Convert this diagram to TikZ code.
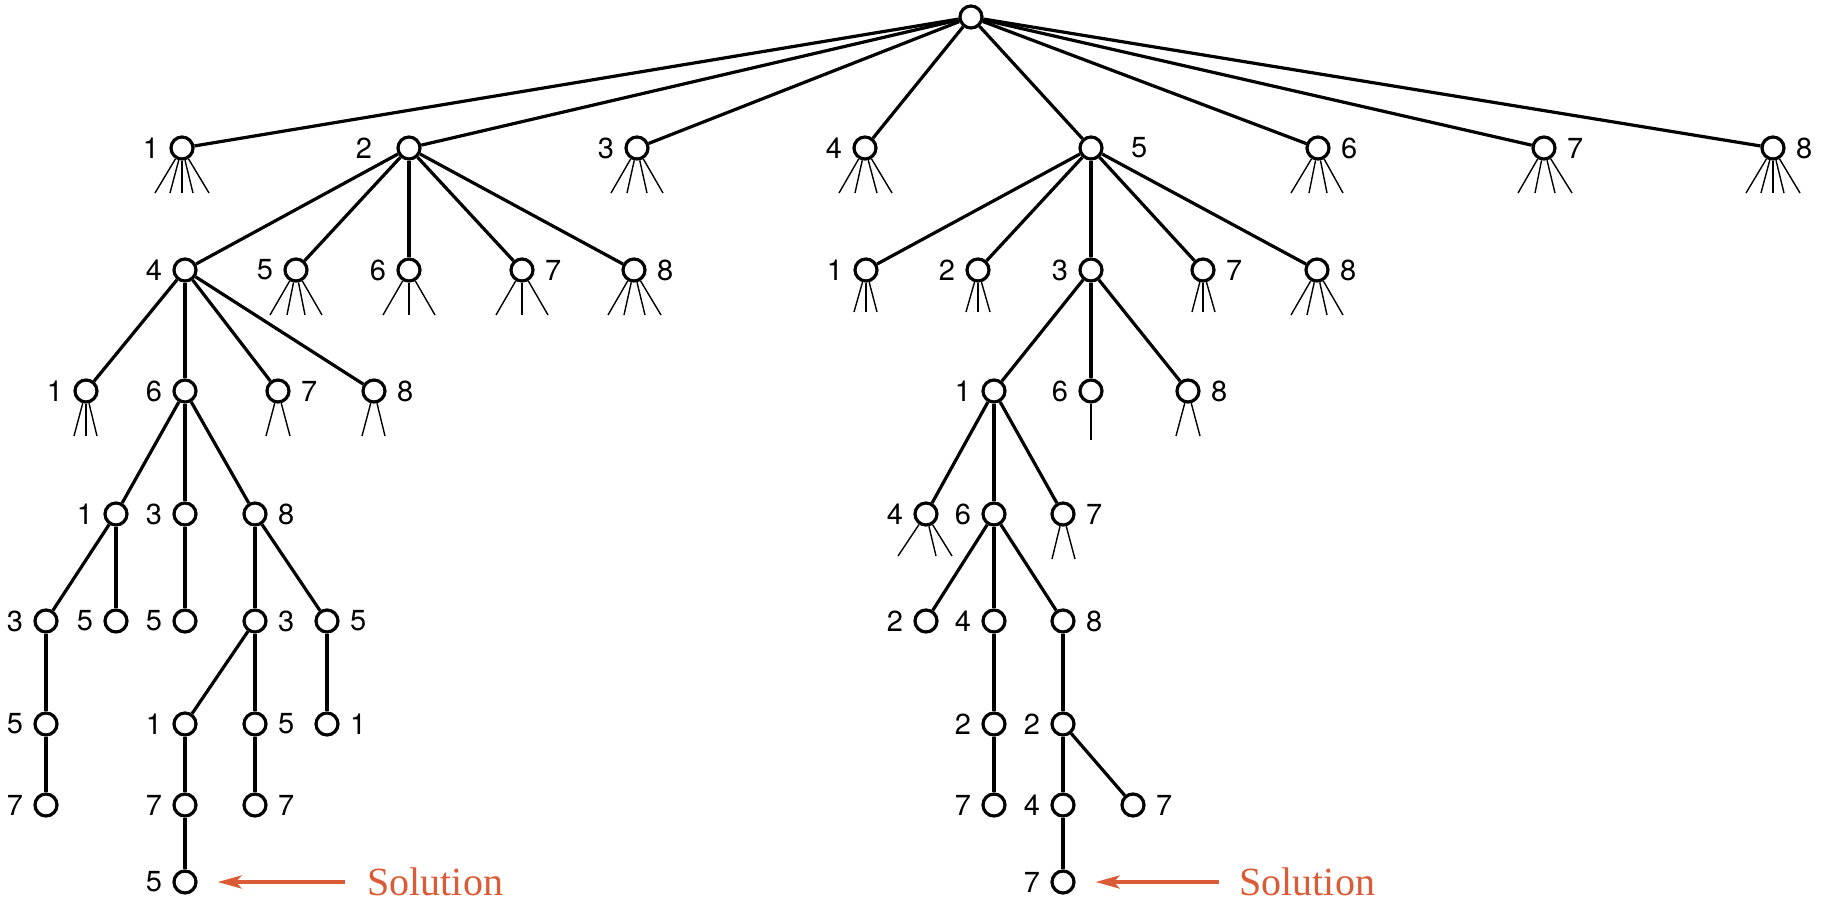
\documentclass[tikz,border=0pt]{standalone}
\usepackage{fontspec}
\usepackage{tikz}
\usetikzlibrary{arrows.meta}
\usepackage{xcolor}
\newfontfamily\labfont{TeX Gyre Heros}
\newfontfamily\solfont{Liberation Serif}
\definecolor{solred}{HTML}{DA5B36}
\newcommand{\stubs}[3][45]{\foreach \dx in {#3} \draw[stub] (#2) -- +(\dx,#1);}

\begin{document}
\begin{tikzpicture}[x=0.5pt, y={(0pt,-0.5pt)},
    vtx/.style={circle, draw, line width=1.6pt, minimum size=11pt, inner sep=0pt, fill=white},
    edge/.style={line width=1.6pt},
    stub/.style={line width=0.7pt},
    every label/.style={font=\labfont\fontsize{14.5}{16}\selectfont, inner sep=0pt},
    label distance=5pt]
  \useasboundingbox (0,0) rectangle (1832,907);

  % root and first row
  \node[vtx] (r) at (971,17) {};
  \node[vtx, label=left:1] (n1) at (182,148) {};
  \node[vtx, label={[label distance=12pt]left:2}] (n2) at (409,148) {};
  \node[vtx, label=left:3] (n3) at (637,148) {};
  \node[vtx, label=left:4] (n4) at (865,148) {};
  \node[vtx, label={[label distance=13.5pt]right:5}] (n5) at (1091,148) {};
  \node[vtx, label=right:6] (n6) at (1318,148) {};
  \node[vtx, label=right:7] (n7) at (1544,148) {};
  \node[vtx, label=right:8] (n8) at (1773,148) {};

  % second row
  \node[vtx, label=left:4] (n24) at (185,270) {};
  \node[vtx, label=left:5] (n25) at (296,270) {};
  \node[vtx, label=left:6] (n26) at (409,270) {};
  \node[vtx, label=right:7] (n27) at (522,270) {};
  \node[vtx, label=right:8] (n28) at (634,270) {};
  \node[vtx, label=left:1] (n51) at (866,270) {};
  \node[vtx, label=left:2] (n52) at (978,270) {};
  \node[vtx, label=left:3] (n53) at (1091,270) {};
  \node[vtx, label=right:7] (n57) at (1203,270) {};
  \node[vtx, label=right:8] (n58) at (1317,270) {};

  % third row
  \node[vtx, label=left:1] (n241) at (86,391) {};
  \node[vtx, label=left:6] (n246) at (185,391) {};
  \node[vtx, label=right:7] (n247) at (278,391) {};
  \node[vtx, label=right:8] (n248) at (374,391) {};
  \node[vtx, label=left:1] (n531) at (994,391) {};
  \node[vtx, label=left:6] (n536) at (1091,391) {};
  \node[vtx, label=right:8] (n538) at (1188,391) {};

  % fourth row
  \node[vtx, label=left:1] (n2461) at (116,514) {};
  \node[vtx, label=left:3] (n2463) at (185,514) {};
  \node[vtx, label=right:8] (n2468) at (255,514) {};
  \node[vtx, label=left:4] (n5314) at (926,514) {};
  \node[vtx, label=left:6] (n5316) at (994,514) {};
  \node[vtx, label=right:7] (n5317) at (1063,514) {};

  % fifth row
  \node[vtx, label=left:3] (n24613) at (46,621) {};
  \node[vtx, label=left:5] (n24615) at (116,621) {};
  \node[vtx, label=left:5] (n24635) at (185,621) {};
  \node[vtx, label=right:3] (n24683) at (255,621) {};
  \node[vtx, label=right:5] (n24685) at (327,621) {};
  \node[vtx, label=left:2] (n53162) at (926,621) {};
  \node[vtx, label=left:4] (n53164) at (994,621) {};
  \node[vtx, label=right:8] (n53168) at (1063,621) {};

  % sixth row
  \node[vtx, label=left:5] (n246135) at (46,724) {};
  \node[vtx, label=left:1] (n246831) at (185,724) {};
  \node[vtx, label=right:5] (n246835) at (255,724) {};
  \node[vtx, label=right:1] (n246851) at (327,724) {};
  \node[vtx, label=left:2] (n531642) at (994,724) {};
  \node[vtx, label=left:2] (n531682) at (1063,724) {};

  % seventh row
  \node[vtx, label=left:7] (n2461357) at (46,805) {};
  \node[vtx, label=left:7] (n2468317) at (185,805) {};
  \node[vtx, label=right:7] (n2468357) at (255,805) {};
  \node[vtx, label=left:7] (n5316427) at (994,805) {};
  \node[vtx, label=left:4] (n5316824) at (1063,805) {};
  \node[vtx, label=right:7] (n5316827) at (1133,805) {};

  % the two solutions
  \node[vtx, label=left:5] (n24683175) at (185,882) {};
  \node[vtx, label=left:7] (n53168247) at (1063,882) {};

  \foreach \a/\b in {r/n1, r/n2, r/n3, r/n4, r/n5, r/n6, r/n7, r/n8,
      n2/n24, n2/n25, n2/n26, n2/n27, n2/n28,
      n5/n51, n5/n52, n5/n53, n5/n57, n5/n58,
      n24/n241, n24/n246, n24/n247, n24/n248,
      n53/n531, n53/n536, n53/n538,
      n246/n2461, n246/n2463, n246/n2468,
      n531/n5314, n531/n5316, n531/n5317,
      n2461/n24613, n2461/n24615, n2463/n24635,
      n2468/n24683, n2468/n24685,
      n5316/n53162, n5316/n53164, n5316/n53168,
      n24613/n246135, n24683/n246831, n24683/n246835, n24685/n246851,
      n53164/n531642, n53168/n531682,
      n246135/n2461357, n246831/n2468317, n246835/n2468357,
      n531642/n5316427, n531682/n5316824, n531682/n5316827,
      n2468317/n24683175, n5316824/n53168247}
    \draw[edge] (\a) -- (\b);

  % cut-off branches
  \stubs{n1}{-27,-12,0,11,27}
  \stubs{n3}{-26,-10,10,26}
  \stubs{n4}{-26,-10,12,27}
  \stubs{n6}{-27,-9,9,25}
  \stubs{n7}{-26,-9,11,28}
  \stubs{n8}{-27,-12,0,11,27}
  \stubs{n25}{-26,-9,9,26}
  \stubs{n26}{-26,0,26}
  \stubs{n27}{-26,0,26}
  \stubs{n28}{-26,-10,11,27}
  \stubs[42]{n51}{-12,0,11}
  \stubs[42]{n52}{-12,0,12}
  \stubs[42]{n57}{-11,0,12}
  \stubs{n58}{-26,-10,10,26}
  \stubs{n241}{-12,0,11}
  \stubs{n247}{-12,12}
  \stubs{n248}{-12,11}
  \stubs[49]{n536}{0}
  \stubs{n538}{-12,12}
  \stubs[42]{n5314}{-28,10,26}
  \stubs{n5317}{-11,12}

  % solution markers
  \node[text=solred, font=\solfont\fontsize{20}{23}\selectfont, inner sep=0pt, anchor=west] (sol1) at (367,882) {Solution};
  \node[text=solred, font=\solfont\fontsize{20}{23}\selectfont, inner sep=0pt, anchor=west] (sol2) at (1239,882) {Solution};
  \draw[solred, line width=2pt, -{Stealth[length=12pt, width=6.5pt, inset=3pt]}, shorten <=11pt, shorten >=10pt] (sol1.west) -- (n24683175);
  \draw[solred, line width=2pt, -{Stealth[length=12pt, width=6.5pt, inset=3pt]}, shorten <=10pt, shorten >=10pt] (sol2.west) -- (n53168247);
\end{tikzpicture}
\end{document}
